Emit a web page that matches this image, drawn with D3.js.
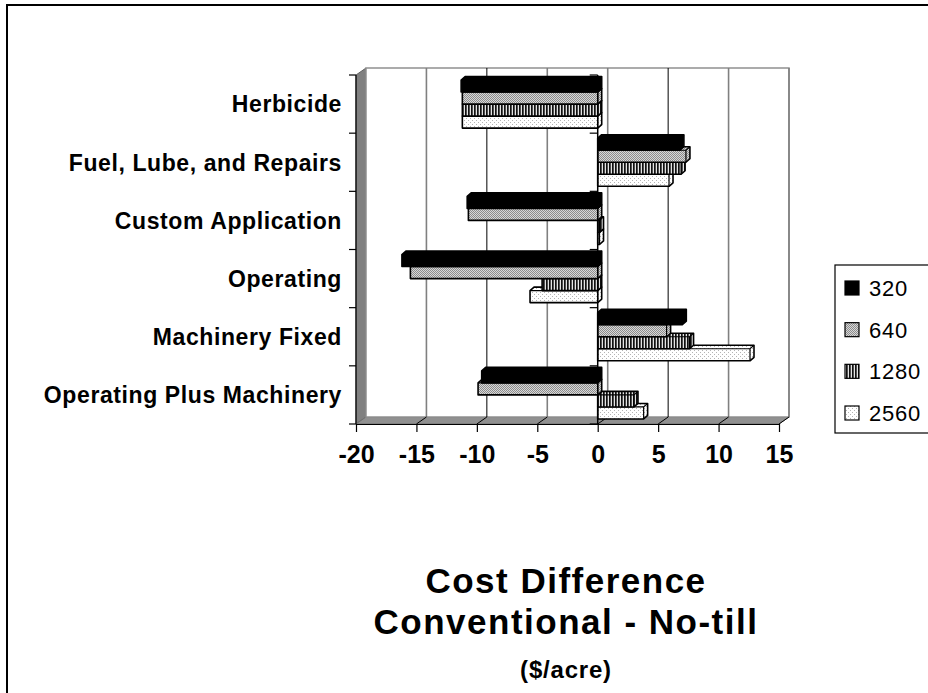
<!DOCTYPE html>
<html>
<head>
<meta charset="utf-8">
<script src="https://cdn.jsdelivr.net/npm/d3@7"></script>
<style>
  body { margin: 0; background: #fff; }
  text { font-family: "Liberation Sans", Arial, sans-serif; }
</style>
</head>
<body>
<script>
// Data ($/acre)
var categories = ["Herbicide", "Fuel, Lube, and Repairs", "Custom Application",
                  "Operating", "Machinery Fixed", "Operating Plus Machinery"];
var seriesNames = ["320", "640", "1280", "2560"];
var s320  = [-11.3, 6.8, -10.8, -16.2, 7.0, -9.6];
var s640  = [-11.2, 7.3, -10.7, -15.5, 5.7, -9.9];
var s1280 = [-11.2, 6.9, 0.15, -4.6, 7.6, 3.0];
var s2560 = [-11.2, 5.9, 0.15, -5.6, 12.6, 3.8];
var xTicks = [-20, -15, -10, -5, 0, 5, 10, 15];
var titleLines = ["Cost Difference", "Conventional - No-till"];
var subTitle = "($/acre)";

var seriesValues = [s320, s640, s1280, s2560];
var fills = ["url(#p320)", "url(#p640)", "url(#p1280)", "url(#p2560)"];

// Size of the page and the 3D box
var W = 928, H = 693;
var front = {left: 356, right: 779, top: 75, bottom: 424};
var depth = {dx: 10, dy: -7};     // offset of the back wall
var barDepth = {dx: 4, dy: -3.5}; // offset of each bar's back face

var svg = d3.select("body").append("svg")
    .attr("width", W)
    .attr("height", H);

// Patterns used by the series
var defs = svg.append("defs");
var p = defs.append("pattern").attr("id", "p320").attr("patternUnits", "userSpaceOnUse")
    .attr("width", 4).attr("height", 4);
p.append("rect").attr("width", 4).attr("height", 4).attr("fill", "#000");

p = defs.append("pattern").attr("id", "p640").attr("patternUnits", "userSpaceOnUse")
    .attr("width", 2).attr("height", 2);
p.append("rect").attr("width", 2).attr("height", 2).attr("fill", "#d8d8d8");
p.append("rect").attr("width", 1).attr("height", 1).attr("fill", "#8c8c8c");
p.append("rect").attr("x", 1).attr("y", 1).attr("width", 1).attr("height", 1).attr("fill", "#8c8c8c");

p = defs.append("pattern").attr("id", "p1280").attr("patternUnits", "userSpaceOnUse")
    .attr("width", 3).attr("height", 3);
p.append("rect").attr("width", 3).attr("height", 3).attr("fill", "#e4e4e4");
p.append("rect").attr("width", 1.7).attr("height", 3).attr("fill", "#111");

p = defs.append("pattern").attr("id", "p2560").attr("patternUnits", "userSpaceOnUse")
    .attr("width", 4).attr("height", 4);
p.append("rect").attr("width", 4).attr("height", 4).attr("fill", "#fff");
p.append("rect").attr("width", 1).attr("height", 1).attr("fill", "#b4b4b4");
p.append("rect").attr("x", 2).attr("y", 2).attr("width", 1).attr("height", 1).attr("fill", "#b4b4b4");

// Outer chart border (runs off the page on the right and bottom)
svg.append("path")
    .attr("d", `M7,${H + 10} L7,5 L${W + 10},5`)
    .attr("fill", "none")
    .attr("stroke", "#000")
    .attr("stroke-width", 2);

// Scales
var x = d3.scaleLinear().domain([-20, 15]).range([front.left, front.right]);
var y = d3.scaleBand().domain(categories).range([front.top, front.bottom]);
var yInner = d3.scaleBand().domain(seriesNames)
    .range([0, y.bandwidth()]).paddingOuter(0.42);

// Side wall, floor and back wall
svg.append("polygon")
    .attr("points", [[front.left, front.top], [front.left + depth.dx, front.top + depth.dy],
                     [front.left + depth.dx, front.bottom + depth.dy], [front.left, front.bottom]].join(" "))
    .attr("fill", "#808080")
    .attr("stroke", "#606060");

svg.append("polygon")
    .attr("points", [[front.left, front.bottom], [front.left + depth.dx, front.bottom + depth.dy],
                     [front.right + depth.dx, front.bottom + depth.dy], [front.right, front.bottom]].join(" "))
    .attr("fill", "#909090")
    .attr("stroke", "#707070");

svg.append("rect")
    .attr("x", front.left + depth.dx)
    .attr("y", front.top + depth.dy)
    .attr("width", front.right - front.left)
    .attr("height", front.bottom - front.top)
    .attr("fill", "#fff")
    .attr("stroke", "#909090")
    .attr("stroke-width", 1.5);

// Gridlines on the back wall and floor
var grid = svg.append("g").attr("class", "grid");
grid.selectAll("line.back").data(xTicks.slice(1))
  .enter().append("line")
    .attr("class", "back")
    .attr("x1", d => x(d) + depth.dx)
    .attr("x2", d => x(d) + depth.dx)
    .attr("y1", front.top + depth.dy)
    .attr("y2", front.bottom + depth.dy)
    .attr("stroke", d => (d == -10 || d == 5) ? "#000" : "#808080")
    .attr("stroke-width", d => (d == -10 || d == 5) ? 1 : 1.6);
grid.selectAll("line.floor").data(xTicks.slice(1))
  .enter().append("line")
    .attr("class", "floor")
    .attr("x1", d => x(d))
    .attr("x2", d => x(d) + depth.dx)
    .attr("y1", front.bottom)
    .attr("y2", front.bottom + depth.dy)
    .attr("stroke", "#000")
    .attr("stroke-width", 1);

// Bars, drawn bottom series first so the upper bar covers the lower top face
function barShape(v, y0, h) {
    var xa = Math.min(x(v), x(0)), xb = Math.max(x(v), x(0));
    var dx = barDepth.dx, dy = barDepth.dy;
    return `M${xa},${y0 + h} L${xa},${y0} L${xa + dx},${y0 + dy} L${xb + dx},${y0 + dy}` +
           ` L${xb + dx},${y0 + h + dy} L${xb},${y0 + h} Z`;
}
function barEdges(v, y0, h) {
    var xa = Math.min(x(v), x(0)), xb = Math.max(x(v), x(0));
    return `M${xa},${y0} L${xb},${y0} L${xb + barDepth.dx},${y0 + barDepth.dy} M${xb},${y0} L${xb},${y0 + h}`;
}

var barsG = svg.append("g").attr("class", "bars");
categories.forEach(function(cat, ci) {
    for (var si = seriesNames.length - 1; si >= 0; si--) {
        var v = seriesValues[si][ci];
        var y0 = y(cat) + yInner(seriesNames[si]);
        var h = yInner.bandwidth();
        barsG.append("path")
            .attr("d", barShape(v, y0, h))
            .attr("fill", fills[si])
            .attr("stroke", "#000")
            .attr("stroke-width", 1.6)
            .attr("stroke-linejoin", "round");
        barsG.append("path")
            .attr("d", barEdges(v, y0, h))
            .attr("fill", "none")
            .attr("stroke", "#000")
            .attr("stroke-width", 1.2);
    }
});

// Zero line with its ticks
svg.append("line")
    .attr("x1", x(0)).attr("x2", x(0))
    .attr("y1", front.top).attr("y2", front.bottom)
    .attr("stroke", "#000").attr("stroke-width", 1.5);
var bounds = categories.map(c => y(c)).concat([front.bottom]);
svg.selectAll("line.zt").data(bounds)
  .enter().append("line")
    .attr("class", "zt")
    .attr("x1", x(0) - 8).attr("x2", x(0))
    .attr("y1", d => d).attr("y2", d => d)
    .attr("stroke", "#000").attr("stroke-width", 1.2);

// Category axis on the left
svg.append("line")
    .attr("x1", front.left).attr("x2", front.left)
    .attr("y1", front.top).attr("y2", front.bottom)
    .attr("stroke", "#000").attr("stroke-width", 1.2);
svg.selectAll("line.ct").data(bounds)
  .enter().append("line")
    .attr("class", "ct")
    .attr("x1", front.left - 7).attr("x2", front.left)
    .attr("y1", d => d).attr("y2", d => d)
    .attr("stroke", "#000").attr("stroke-width", 1.2);
svg.selectAll("text.cat").data(categories)
  .enter().append("text")
    .attr("class", "cat")
    .attr("x", 342)
    .attr("y", d => y(d) + y.bandwidth() / 2)
    .attr("dy", "0.36em")
    .attr("text-anchor", "end")
    .attr("font-size", 23)
    .attr("font-weight", "bold")
    .attr("letter-spacing", 0.6)
    .text(d => d);

// Value axis along the front bottom edge (plain hyphen for negatives)
var xAxis = d3.axisBottom(x).tickValues(xTicks).tickFormat(d => String(d))
    .tickSize(8).tickPadding(13).tickSizeOuter(0);
var xg = svg.append("g")
    .attr("transform", `translate(0,${front.bottom})`)
    .call(xAxis);
xg.select(".domain").attr("stroke", "#000").attr("stroke-width", 1.2);
xg.selectAll(".tick line").attr("stroke", "#000").attr("stroke-width", 1.2);
xg.selectAll(".tick text")
    .attr("fill", "#000")
    .attr("font-family", "'Liberation Sans', Arial, sans-serif")
    .attr("font-size", 25)
    .attr("font-weight", "bold");

// Legend
var legend = svg.append("g").attr("class", "legend");
legend.append("rect")
    .attr("x", 835).attr("y", 265)
    .attr("width", 120).attr("height", 168)
    .attr("fill", "#fff")
    .attr("stroke", "#000")
    .attr("stroke-width", 1.2);
var ly = d3.scalePoint().domain(seriesNames).range([288, 413]);
seriesNames.forEach(function(name, i) {
    legend.append("rect")
        .attr("x", 845).attr("y", ly(name) - 7)
        .attr("width", 14).attr("height", 14)
        .attr("fill", fills[i])
        .attr("stroke", "#000")
        .attr("stroke-width", 1.2);
    legend.append("text")
        .attr("x", 869).attr("y", ly(name))
        .attr("dy", "0.36em")
        .attr("font-size", 22)
        .attr("letter-spacing", 0.8)
        .text(name);
});

// Title
var cx = 566;
titleLines.forEach(function(line, i) {
    svg.append("text")
        .attr("x", cx).attr("y", 593 + i * 41)
        .attr("text-anchor", "middle")
        .attr("font-size", 35)
        .attr("font-weight", "bold")
        .attr("letter-spacing", 1.5)
        .text(line);
});
svg.append("text")
    .attr("x", cx).attr("y", 678)
    .attr("text-anchor", "middle")
    .attr("font-size", 24)
    .attr("font-weight", "bold")
    .attr("letter-spacing", 0.8)
    .text(subTitle);
</script>
</body>
</html>
